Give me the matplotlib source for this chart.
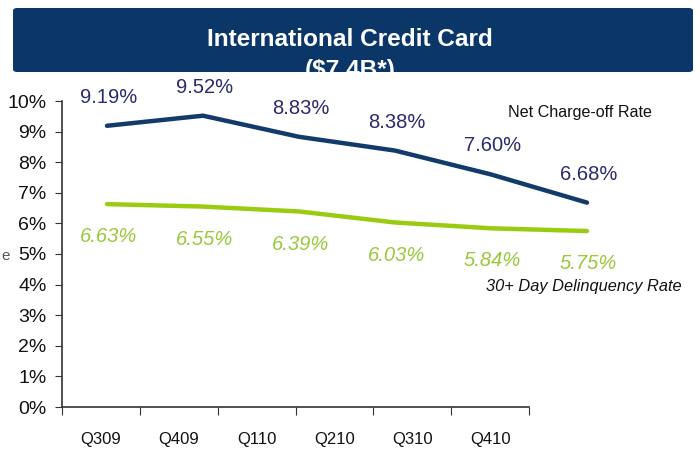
import matplotlib
matplotlib.use("Agg")
import matplotlib.pyplot as plt
from matplotlib.patches import FancyBboxPatch

plt.rcParams['font.family'] = ['Liberation Sans', 'DejaVu Sans']

quarters = ["Q309", "Q409", "Q110", "Q210", "Q310", "Q410"]
net_charge_off = [9.19, 9.52, 8.83, 8.38, 7.60, 6.68]
delinquency = [6.63, 6.55, 6.39, 6.03, 5.84, 5.75]
y_ticks = list(range(0, 11))
title_line1 = "International Credit Card"
title_line2 = "($7.4B*)"

W, H = 700, 450
fig = plt.figure(figsize=(7, 4.5), dpi=100)

def fx(px):
    return px / W

def fy(py):
    return 1 - py / H

# Banner
banner = FancyBboxPatch((fx(13), fy(72)), fx(693) - fx(13), fy(8) - fy(72),
                        boxstyle="round,pad=0,rounding_size=0.006",
                        transform=fig.transFigure, facecolor="#0b3768",
                        edgecolor="none", zorder=1)
fig.patches.append(banner)
fig.text(fx(350), fy(40), title_line1, color="white", fontsize=17.6,
         fontweight="bold", ha="center", va="center", zorder=2)
t2 = fig.text(fx(350), fy(70), title_line2, color="white", fontsize=17.6,
              fontweight="bold", ha="center", va="center", zorder=2)
t2.set_clip_path(banner)

# Main category axis
ax = fig.add_axes([fx(62), fy(407), fx(529) - fx(62), fy(101) - fy(407)])
n = len(quarters)
ax.set_xlim(-0.5, n - 0.5)
ax.set_ylim(0, 10)
ax.set_yticks(y_ticks)
ax.set_yticklabels([f"{v}%" for v in y_ticks], fontsize=14, color="#111111")
ax.set_xticks([i - 0.5 for i in range(n + 1)])
ax.set_xticklabels([])
ax.set_xticks(range(n), minor=True)
ax.set_xticklabels(quarters, minor=True, fontsize=12, color="#111111")
ax.tick_params(axis="x", which="minor", length=0, pad=18)
ax.tick_params(axis="x", which="major", length=6, direction="out", color="#333333")
ax.tick_params(axis="y", length=5, direction="out", color="#333333", pad=6)
for s in ["top", "right"]:
    ax.spines[s].set_visible(False)
for s in ["left", "bottom"]:
    ax.spines[s].set_color("#333333")
    ax.spines[s].set_linewidth(1.2)
ax.patch.set_alpha(0)

# Line axis (points offset from categories as in the source)
ax2 = ax.twiny()
ax2.set_xlim(-(107 - 62) / 96, (529 - 107) / 96)
ax2.set_ylim(0, 10)
ax2.axis("off")
xs = list(range(n))
ax2.plot(xs, net_charge_off, color="#123a6b", lw=3.2, clip_on=False,
         solid_capstyle="round")
ax2.plot(xs, delinquency, color="#99cc11", lw=3.2, clip_on=False,
         solid_capstyle="round")
for x, v in zip(xs, net_charge_off):
    ax2.annotate(f"{v:.2f}%", (x, v), xytext=(1, 20.5), textcoords="offset points",
                 ha="center", va="center", fontsize=14.5, color="#2a2a6e",
                 annotation_clip=False)
for x, v in zip(xs, delinquency):
    ax2.annotate(f"{v:.2f}%", (x, v), xytext=(1, -23.5), textcoords="offset points",
                 ha="center", va="center", fontsize=14.5, color="#99c83a",
                 style="italic", annotation_clip=False)

fig.text(fx(580), fy(113), "Net Charge-off Rate", fontsize=11.6, color="#111111",
         ha="center", va="center")
fig.text(fx(584), fy(287), "30+ Day Delinquency Rate", fontsize=11.8,
         color="#111111", ha="center", va="center", style="italic")
fig.text(fx(1), fy(256), "e", fontsize=11, color="#555555", ha="left",
         va="center")

fig.savefig("out.png", dpi=100)
